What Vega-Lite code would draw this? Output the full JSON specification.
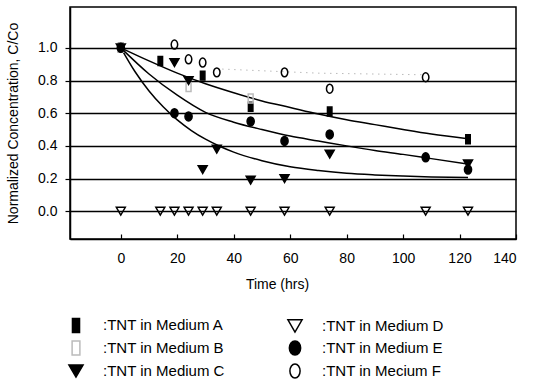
{
  "$schema": "https://vega.github.io/schema/vega-lite/v6.json",
  "autosize": "none",
  "width": 446,
  "height": 232,
  "padding": {"left": 70, "top": 7, "right": 18, "bottom": 145},
  "background": "white",
  "config": {
    "font": "Liberation Sans",
    "view": {"stroke": "black", "strokeWidth": 1.5},
    "axis": {
      "domainColor": "black",
      "domainWidth": 1.5,
      "tickColor": "black",
      "tickWidth": 1.2,
      "labelColor": "black",
      "titleColor": "black",
      "titleFontWeight": "normal",
      "labelFont": "Liberation Sans",
      "titleFont": "Liberation Sans"
    },
    "legend": {"labelFont": "Liberation Sans", "labelColor": "black"}
  },
  "datasets": {
    "points": [
      {"series": ":TNT in Medium A", "t": 0, "c": 1.0},
      {"series": ":TNT in Medium A", "t": 14, "c": 0.92},
      {"series": ":TNT in Medium A", "t": 29, "c": 0.83},
      {"series": ":TNT in Medium A", "t": 46, "c": 0.64},
      {"series": ":TNT in Medium A", "t": 74, "c": 0.61},
      {"series": ":TNT in Medium A", "t": 123, "c": 0.44},
      {"series": ":TNT in Medium B", "t": 0, "c": 1.0},
      {"series": ":TNT in Medium B", "t": 24, "c": 0.76},
      {"series": ":TNT in Medium B", "t": 46, "c": 0.69},
      {"series": ":TNT in Medium C", "t": 0, "c": 1.0},
      {"series": ":TNT in Medium C", "t": 19, "c": 0.91},
      {"series": ":TNT in Medium C", "t": 24, "c": 0.8},
      {"series": ":TNT in Medium C", "t": 29, "c": 0.255},
      {"series": ":TNT in Medium C", "t": 34, "c": 0.38},
      {"series": ":TNT in Medium C", "t": 46, "c": 0.19},
      {"series": ":TNT in Medium C", "t": 58, "c": 0.2},
      {"series": ":TNT in Medium C", "t": 74, "c": 0.35},
      {"series": ":TNT in Medium C", "t": 123, "c": 0.29},
      {"series": ":TNT in Medium D", "t": 0, "c": 0.0},
      {"series": ":TNT in Medium D", "t": 14, "c": 0.0},
      {"series": ":TNT in Medium D", "t": 19, "c": 0.0},
      {"series": ":TNT in Medium D", "t": 24, "c": 0.0},
      {"series": ":TNT in Medium D", "t": 29, "c": 0.0},
      {"series": ":TNT in Medium D", "t": 34, "c": 0.0},
      {"series": ":TNT in Medium D", "t": 46, "c": 0.0},
      {"series": ":TNT in Medium D", "t": 58, "c": 0.0},
      {"series": ":TNT in Medium D", "t": 74, "c": 0.0},
      {"series": ":TNT in Medium D", "t": 108, "c": 0.0},
      {"series": ":TNT in Medium D", "t": 123, "c": 0.0},
      {"series": ":TNT in Medium E", "t": 0, "c": 1.0},
      {"series": ":TNT in Medium E", "t": 19, "c": 0.6},
      {"series": ":TNT in Medium E", "t": 24, "c": 0.58},
      {"series": ":TNT in Medium E", "t": 46, "c": 0.55},
      {"series": ":TNT in Medium E", "t": 58, "c": 0.43},
      {"series": ":TNT in Medium E", "t": 74, "c": 0.47},
      {"series": ":TNT in Medium E", "t": 108, "c": 0.33},
      {"series": ":TNT in Medium E", "t": 123, "c": 0.255},
      {"series": ":TNT in Mecium F", "t": 19, "c": 1.02},
      {"series": ":TNT in Mecium F", "t": 24, "c": 0.93},
      {"series": ":TNT in Mecium F", "t": 29, "c": 0.91},
      {"series": ":TNT in Mecium F", "t": 34, "c": 0.85},
      {"series": ":TNT in Mecium F", "t": 58, "c": 0.85},
      {"series": ":TNT in Mecium F", "t": 74, "c": 0.75},
      {"series": ":TNT in Mecium F", "t": 108, "c": 0.82}
    ],
    "curves": [
      {"curve": "A", "t": 0, "c": 1.0},
      {"curve": "A", "t": 10, "c": 0.92},
      {"curve": "A", "t": 20, "c": 0.845},
      {"curve": "A", "t": 30, "c": 0.78},
      {"curve": "A", "t": 40, "c": 0.725},
      {"curve": "A", "t": 50, "c": 0.675},
      {"curve": "A", "t": 60, "c": 0.635},
      {"curve": "A", "t": 70, "c": 0.595},
      {"curve": "A", "t": 80, "c": 0.56},
      {"curve": "A", "t": 90, "c": 0.53},
      {"curve": "A", "t": 100, "c": 0.5},
      {"curve": "A", "t": 110, "c": 0.472},
      {"curve": "A", "t": 123, "c": 0.443},
      {"curve": "E", "t": 0, "c": 1.0},
      {"curve": "E", "t": 10, "c": 0.84},
      {"curve": "E", "t": 20, "c": 0.71},
      {"curve": "E", "t": 30, "c": 0.605},
      {"curve": "E", "t": 40, "c": 0.545},
      {"curve": "E", "t": 50, "c": 0.5},
      {"curve": "E", "t": 60, "c": 0.46},
      {"curve": "E", "t": 70, "c": 0.43},
      {"curve": "E", "t": 80, "c": 0.4},
      {"curve": "E", "t": 90, "c": 0.372},
      {"curve": "E", "t": 100, "c": 0.348},
      {"curve": "E", "t": 110, "c": 0.322},
      {"curve": "E", "t": 123, "c": 0.288},
      {"curve": "C", "t": 0, "c": 1.0},
      {"curve": "C", "t": 5, "c": 0.855},
      {"curve": "C", "t": 10, "c": 0.736},
      {"curve": "C", "t": 15, "c": 0.639},
      {"curve": "C", "t": 20, "c": 0.559},
      {"curve": "C", "t": 25, "c": 0.494},
      {"curve": "C", "t": 30, "c": 0.441},
      {"curve": "C", "t": 35, "c": 0.398},
      {"curve": "C", "t": 40, "c": 0.362},
      {"curve": "C", "t": 50, "c": 0.309},
      {"curve": "C", "t": 60, "c": 0.272},
      {"curve": "C", "t": 70, "c": 0.249},
      {"curve": "C", "t": 80, "c": 0.232},
      {"curve": "C", "t": 90, "c": 0.222},
      {"curve": "C", "t": 100, "c": 0.215},
      {"curve": "C", "t": 110, "c": 0.21},
      {"curve": "C", "t": 123, "c": 0.206}
    ],
    "fdots": [
      {"t": 36, "c": 0.87},
      {"t": 70, "c": 0.845},
      {"t": 108, "c": 0.835}
    ]
  },
  "layer": [
    {
      "data": {"name": "curves"},
      "mark": {"type": "line", "interpolate": "monotone", "color": "black", "strokeWidth": 1.5},
      "encoding": {
        "x": {"field": "t", "type": "quantitative", "scale": {"domain": [-18, 140], "nice": false, "zero": false},
          "axis": {"values": [0, 20, 40, 60, 80, 100, 120, 140], "grid": false, "title": "Time (hrs)", "labelFontSize": 14, "titleFontSize": 14, "tickSize": -5, "labelPadding": 17, "titleX": 207, "titleY": 45, "titleBaseline": "middle", "titleAlign": "center", "titleAnchor": null}},
        "y": {"field": "c", "type": "quantitative", "scale": {"domain": [-0.17, 1.25], "nice": false, "zero": false},
          "axis": {"values": [0, 0.2, 0.4, 0.6, 0.8, 1.0], "format": ".1f", "grid": true, "gridColor": "black", "gridWidth": 1.3, "gridOpacity": 1, "title": "Normalized Concentration, C/Co", "labelFontSize": 14, "titleFontSize": 14, "tickSize": 5, "labelPadding": 8, "titlePadding": 17}},
        "detail": {"field": "curve"}
      }
    },
    {
      "data": {"name": "fdots"},
      "mark": {"type": "line", "color": "#999999", "strokeWidth": 1, "strokeDash": [1, 5]},
      "encoding": {
        "x": {"field": "t", "type": "quantitative"},
        "y": {"field": "c", "type": "quantitative"}
      }
    },
    {
      "data": {"name": "points"},
      "mark": {"type": "point", "size": 80, "strokeWidth": 1.5, "opacity": 1},
      "encoding": {
        "x": {"field": "t", "type": "quantitative"},
        "y": {"field": "c", "type": "quantitative"},
        "shape": {
          "field": "series", "type": "nominal",
          "scale": {
            "domain": [":TNT in Medium A", ":TNT in Medium B", ":TNT in Medium C", ":TNT in Medium D", ":TNT in Medium E", ":TNT in Mecium F"],
            "range": ["M-0.5,-1L0.5,-1L0.5,1L-0.5,1Z", "M-0.55,-1L0.55,-1L0.55,1L-0.55,1Z", "triangle-down", "triangle-down", "M0,-1A0.8,1 0 1,1 0,1A0.8,1 0 1,1 0,-1Z", "M0,-1A0.72,1 0 1,1 0,1A0.72,1 0 1,1 0,-1Z"]
          },
          "legend": {
            "title": null, "orient": "none", "legendX": -2, "legendY": 310, "columns": 2,
            "labelFontSize": 15, "symbolSize": 200, "symbolStrokeWidth": 1.5,
            "rowPadding": 1, "columnPadding": 59, "labelOffset": 19
          }
        },
        "fill": {
          "field": "series", "type": "nominal",
          "scale": {
            "domain": [":TNT in Medium A", ":TNT in Medium B", ":TNT in Medium C", ":TNT in Medium D", ":TNT in Medium E", ":TNT in Mecium F"],
            "range": ["black", "transparent", "black", "transparent", "black", "transparent"]
          }
        },
        "stroke": {
          "field": "series", "type": "nominal",
          "scale": {
            "domain": [":TNT in Medium A", ":TNT in Medium B", ":TNT in Medium C", ":TNT in Medium D", ":TNT in Medium E", ":TNT in Mecium F"],
            "range": ["black", "#bbbbbb", "black", "black", "black", "black"]
          }
        }
      }
    }
  ]
}
